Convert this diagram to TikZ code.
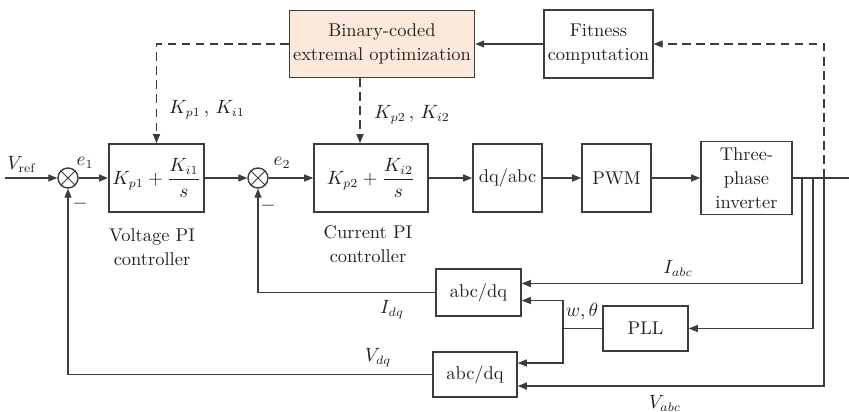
\documentclass[tikz,border=0pt]{standalone}
\usetikzlibrary{arrows.meta,calc,positioning}
\definecolor{clink}{HTML}{3C3C3C}
\definecolor{cltext}{HTML}{222222}
\definecolor{clpeach}{HTML}{FCE9DC}
\tikzset{
  cl text/.style={font=\fontsize{10.5}{13.5}\selectfont, text=cltext},
  cl block/.style={draw=clink, line width=0.9pt, fill=white, align=center,
    inner sep=2pt, cl text},
  cl sum/.style={draw=clink, line width=0.8pt, circle, minimum size=0.4cm,
    inner sep=0pt, path picture={
      \draw[clink, line width=0.6pt]
        (path picture bounding box.north west)--(path picture bounding box.south east)
        (path picture bounding box.north east)--(path picture bounding box.south west);}},
  cl line/.style={line width=0.7pt, draw=clink},
  cl arrow/.style={cl line, -{Triangle[length=1.8mm,width=1.4mm]}},
  cl dash/.style={cl line, dash pattern=on 5pt off 3pt},
  cl dash arrow/.style={cl dash, -{Triangle[length=1.8mm,width=1.4mm]}},
  cl label/.style={cl text, inner sep=1pt}
}

\begin{document}
\begin{tikzpicture}[cl text, x=0.02cm, y=-0.02cm]
  \useasboundingbox (0,0) rectangle (849,412);
  \node[cl sum] (sum1) at (68,178) {};
  \node[cl block, minimum width=1.82cm, minimum height=1.36cm] (vpi) at (156.5,178)
    {$K_{p1}+\displaystyle\frac{K_{i1}}{s}$};
  \node[cl sum] (sum2) at (258,178) {};
  \node[cl block, minimum width=2.28cm, minimum height=1.36cm] (cpi) at (371,178)
    {$K_{p2}+\displaystyle\frac{K_{i2}}{s}$};
  \node[cl block, minimum width=1.38cm, minimum height=1.36cm] (dqabc) at (507.5,178) {dq/abc};
  \node[cl block, minimum width=1.38cm, minimum height=1.36cm] (pwm) at (616.5,178) {PWM};
  \node[cl block, minimum width=1.82cm, minimum height=1.46cm] (inv) at (746.5,178)
    {Three-\\phase\\inverter};
  \node[cl block, minimum width=2.14cm, minimum height=1.36cm] (fit) at (598.5,44)
    {Fitness\\computation};
  \node[cl block, fill=clpeach, minimum width=3.68cm, minimum height=1.34cm] (bceo) at (382,44)
    {Binary-coded\\extremal optimization};
  \node[cl block, minimum width=1.7cm, minimum height=0.94cm] (abc1) at (478.5,292.5) {abc/dq};
  \node[cl block, minimum width=1.68cm, minimum height=0.9cm] (abc2) at (475,374.5) {abc/dq};
  \node[cl block, minimum width=1.7cm, minimum height=0.9cm] (pll) at (645.5,328.5) {PLL};

  \coordinate (vin) at (5,178);
  \coordinate (vout) at (849,178);
  \coordinate (tapI) at (802,178);
  \coordinate (tapP) at (813,178);
  \coordinate (tapV) at (824,178);
  \coordinate (wt) at (563,328.5);
  \coordinate (k1src) at (bceo.west);
  \path ($(bceo.south)+(-22,0)$) coordinate (k2src);

  \draw[cl arrow] (vin) -- (sum1);
  \draw[cl arrow] (sum1) -- (vpi);
  \draw[cl arrow] (vpi) -- (sum2);
  \draw[cl arrow] (sum2) -- (cpi);
  \draw[cl arrow] (cpi) -- (dqabc);
  \draw[cl arrow] (dqabc) -- (pwm);
  \draw[cl arrow] (pwm) -- (inv);
  \draw[cl line] (inv.east) -- (vout);
  \draw[cl arrow] (tapI) |- ([yshift=0.18cm]abc1.east);
  \draw[cl arrow] (tapP) |- (pll.east);
  \draw[cl arrow] (tapV) |- ([yshift=-0.23cm]abc2.east);
  \draw[cl line] (pll.west) -- (wt);
  \draw[cl arrow] (wt) |- ([yshift=-0.16cm]abc1.east);
  \draw[cl arrow] (wt) |- ([yshift=0.23cm]abc2.east);
  \draw[cl arrow] (abc1.west) -| (sum2.south);
  \draw[cl arrow] (abc2.west) -| (sum1.south);
  \draw[cl dash arrow] (tapV) |- (fit.east);
  \draw[cl arrow] (fit) -- (bceo);
  \draw[cl dash arrow] (k1src) -| (vpi.north);
  \draw[cl dash arrow] (k2src) -- (k2src |- cpi.north);

  \node[cl label] (lvref) at (22,164) {$V_{\mathrm{ref}}$};
  \node[cl label] (le1) at (85,163) {$e_1$};
  \node[cl label] (le2) at (282,163) {$e_2$};
  \node[cl label] (lm1) at (80,204) {$-$};
  \node[cl label] (lm2) at (268,206) {$-$};
  \node[cl label, align=center] (lvpi) at (152,247.5) {Voltage PI\\controller};
  \node[cl label, align=center] (lcpi) at (368,244) {Current PI\\controller};
  \node[cl label] (lk1) at (207,110) {$K_{p1}\,,\,K_{i1}$};
  \node[cl label] (lk2) at (412,115) {$K_{p2}\,,\,K_{i2}$};
  \node[cl label] (liabc) at (678,268) {$I_{abc}$};
  \node[cl label] (lidq) at (392,310) {$I_{dq}$};
  \node[cl label] (lwt) at (582,312) {$w,\theta$};
  \node[cl label] (lvdq) at (378,358) {$V_{dq}$};
  \node[cl label] (lvabc) at (665,403) {$V_{abc}$};
\end{tikzpicture}
\end{document}
